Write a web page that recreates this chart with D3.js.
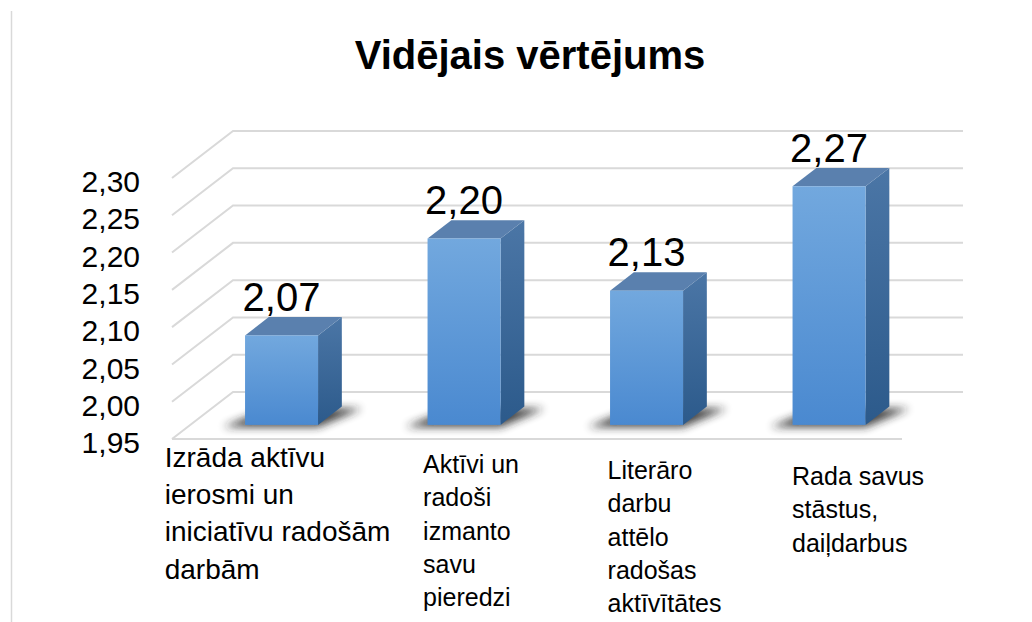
<!DOCTYPE html>
<html>
<head>
<meta charset="utf-8">
<script src="https://cdn.jsdelivr.net/npm/d3@7"></script>
<style>
  body { margin: 0; background: #fff; }
  svg { display: block; font-family: "Liberation Sans", Arial, sans-serif; }
</style>
</head>
<body>
<div id="chart"></div>
<script>
// chart data
const title = 'Vidējais vērtējums';
const categories = [
    'Izrāda aktīvu|ierosmi un|iniciatīvu radošām|darbām',
    'Aktīvi un|radoši|izmanto|savu|pieredzi',
    'Literāro|darbu|attēlo|radošas|aktīvītātes',
    'Rada savus|stāstus,|daiļdarbus'
];
const values = [2.07, 2.20, 2.13, 2.27];
const yTicks = [1.95, 2.00, 2.05, 2.10, 2.15, 2.20, 2.25, 2.30];

const width = 1032, height = 622;
// 3d box: front plane and back wall offset
const front = { left: 172, right: 902, top: 178, bottom: 439 };
const DX = 61, DY = 47;
const barZ0 = 0.3, barZ = 0.39;

const lv = d3.formatLocale({ decimal: ',', thousands: ' ', grouping: [3], currency: ['', ''] });
const fmt = lv.format('.2f');

const svg = d3.select('#chart').append('svg')
    .attr('width', width)
    .attr('height', height);

const defs = svg.append('defs');
function grad(id, c1, c2) {
    const g = defs.append('linearGradient').attr('id', id)
        .attr('x1', 0).attr('y1', 0).attr('x2', 0).attr('y2', 1);
    g.append('stop').attr('offset', '0%').attr('stop-color', c1);
    g.append('stop').attr('offset', '100%').attr('stop-color', c2);
}
grad('gFront', '#72a8de', '#4a89d0');
grad('gSide', '#4b76a6', '#2c5a8b');
defs.append('filter').attr('id', 'blur')
    .attr('x', '-50%').attr('y', '-50%').attr('width', '200%').attr('height', '200%')
    .append('feGaussianBlur').attr('stdDeviation', 4);

// left border of the chart area
svg.append('line')
    .attr('x1', 11.5).attr('x2', 11.5).attr('y1', 11).attr('y2', height)
    .attr('stroke', '#d9d9d9').attr('stroke-width', 1.5);

svg.append('text')
    .attr('x', 530)
    .attr('y', 69)
    .attr('text-anchor', 'middle')
    .style('font-size', '40px')
    .style('font-weight', 'bold')
    .attr('fill', '#000')
    .text(title);

const x = d3.scaleBand()
    .domain(categories)
    .range([front.left, front.right])
    .padding(0);

const y = d3.scaleLinear()
    .domain([yTicks[0], yTicks[yTicks.length - 1]])
    .range([front.bottom, front.top]);

// gridlines: left wall diagonal + back wall line
const grid = svg.append('g').attr('class', 'grid');
grid.selectAll('path')
    .data(yTicks)
    .enter()
    .append('path')
    .attr('fill', 'none')
    .attr('stroke', '#d9d9d9')
    .attr('stroke-width', 2)
    .attr('d', d => {
        const yy = y(d);
        return `M${front.left},${yy}L${front.left + DX},${yy - DY}L${front.right + DX},${yy - DY}`;
    });
// floor front edge
grid.append('line')
    .attr('x1', front.left).attr('x2', front.right)
    .attr('y1', y(yTicks[0])).attr('y2', y(yTicks[0]))
    .attr('stroke', '#d9d9d9').attr('stroke-width', 2);

// y axis labels
const yAxis = svg.append('g')
    .attr('transform', 'translate(140,4)')
    .call(d3.axisLeft(y).tickValues(yTicks).tickSize(0).tickPadding(0).tickFormat(fmt));
yAxis.select('.domain').remove();
yAxis.selectAll('text')
    .attr('fill', '#000')
    .style('font-size', '30px')
    .style('font-family', '"Liberation Sans", Arial, sans-serif');

// bars
const barW = x.bandwidth() * 0.4;
const bars = values.map((v, i) => {
    const c = categories[i];
    const x0 = x(c) + (x.bandwidth() - barW) / 2 + DX * barZ0;
    const yb = y(yTicks[0]) - DY * barZ0;
    const yt = y(v) - DY * barZ0;
    return { v, i, x0, x1: x0 + barW, yb, yt, dx: DX * barZ, dy: DY * barZ };
});

const barG = svg.append('g').attr('class', 'bars');

barG.selectAll('.shadow')
    .data(bars)
    .enter()
    .append('path')
    .attr('class', 'shadow')
    .attr('fill', '#222')
    .attr('opacity', 0.85)
    .attr('filter', 'url(#blur)')
    .attr('d', d => `M${d.x0 - 22},${d.yb + 2}L${d.x1},${d.yb + 2}L${d.x1 + d.dx + 20},${d.yb - d.dy + 2}L${d.x0 + d.dx},${d.yb - d.dy + 2}Z`);

barG.selectAll('.side')
    .data(bars)
    .enter()
    .append('path')
    .attr('class', 'side')
    .attr('fill', 'url(#gSide)')
    .attr('d', d => `M${d.x1},${d.yt}L${d.x1 + d.dx},${d.yt - d.dy}L${d.x1 + d.dx},${d.yb - d.dy}L${d.x1},${d.yb}Z`);

barG.selectAll('.top')
    .data(bars)
    .enter()
    .append('path')
    .attr('class', 'top')
    .attr('fill', '#5a80ae')
    .attr('d', d => `M${d.x0},${d.yt}L${d.x0 + d.dx},${d.yt - d.dy}L${d.x1 + d.dx},${d.yt - d.dy}L${d.x1},${d.yt}Z`);

barG.selectAll('.front')
    .data(bars)
    .enter()
    .append('rect')
    .attr('class', 'front')
    .attr('x', d => d.x0)
    .attr('y', d => d.yt)
    .attr('width', barW)
    .attr('height', d => d.yb - d.yt)
    .attr('fill', 'url(#gFront)');

// value labels
svg.selectAll('.value-label')
    .data(bars)
    .enter()
    .append('text')
    .attr('class', 'value-label')
    .attr('x', d => (d.x0 + d.x1) / 2)
    .attr('y', d => d.yt - d.dy - 6)
    .attr('text-anchor', 'middle')
    .style('font-size', '40px')
    .attr('fill', '#000')
    .text(d => fmt(d.v));

// category labels, wrapped lines, block centred near the bar
const catG = svg.selectAll('.cat-label')
    .data(bars)
    .enter()
    .append('text')
    .attr('class', 'cat-label')
    .attr('fill', '#000')
    .style('font-size', d => (d.i === 0 ? 28 : 25) + 'px');

catG.each(function(d) {
    const t = d3.select(this);
    const size = d.i === 0 ? 28 : 25;
    const lines = categories[d.i].split('|');
    lines.forEach((ln, k) => {
        t.append('tspan')
            .attr('y', y(yTicks[0]) + 28 + 6 * d.i + k * size * 1.33)
            .text(ln);
    });
    const w = d3.max(t.selectAll('tspan').nodes(), n => n.getComputedTextLength());
    const cx = (d.x0 + d.x1) / 2 - 4 + 11 * d.i;
    t.selectAll('tspan').attr('x', cx - w / 2);
});
</script>
</body>
</html>
